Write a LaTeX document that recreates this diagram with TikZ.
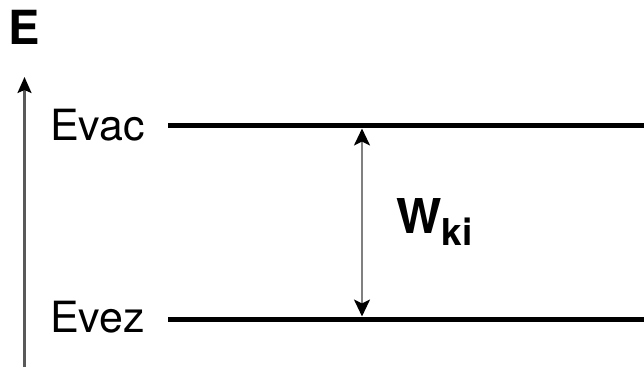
\documentclass[tikz,border=0pt]{standalone}
\usepackage{fontspec}
\setmainfont{TeX Gyre Heros}
\usetikzlibrary{arrows.meta}

\begin{document}
\begin{tikzpicture}[x=1pt,y=1pt,
  level/.style={line width=5pt, line cap=butt},
  levellabel/.style={anchor=base west, inner sep=0pt, font=\fontsize{43}{43}\selectfont},
  axisline/.style={draw=black!65, line width=2.2pt,
    -{Stealth[length=16pt,width=14pt,inset=3pt,color=black]}},
  gapline/.style={draw=black!50, line width=2.4pt,
    {Stealth[length=17pt,width=16pt,inset=4pt,color=black]}-{Stealth[length=17pt,width=16pt,inset=4pt,color=black]}},
]
\useasboundingbox (0,0) rectangle (644,367);

% energy axis
\coordinate (axisBottom) at (24.5,0);
\coordinate (axisTop) at (24.5,290);
\draw[axisline] (axisBottom) -- (axisTop);
\node[anchor=base, inner sep=0pt, font=\bfseries\fontsize{47}{47}\selectfont] (elabel) at (24.5,322.5) {E};

% vacuum level
\coordinate (vacL) at (168,241);
\coordinate (vacR) at (644,241);
\draw[level] (vacL) -- (vacR);
\node[levellabel] (evac) at (50,226.5) {Evac};

% lower level
\coordinate (vezL) at (168,48);
\coordinate (vezR) at (644,48);
\draw[level] (vezL) -- (vezR);
\node[levellabel] (evez) at (50,34.5) {Evez};

% gap between the levels
\coordinate (gapTop) at (362,238.5);
\coordinate (gapBottom) at (362,50.5);
\draw[gapline] (gapBottom) -- (gapTop);
\node[anchor=base west, inner sep=0pt, font=\bfseries\fontsize{48}{48}\selectfont] (wki) at (396,133.5)
  {W\raisebox{-11.5pt}{\fontsize{37}{37}\selectfont ki}};
\end{tikzpicture}
\end{document}
